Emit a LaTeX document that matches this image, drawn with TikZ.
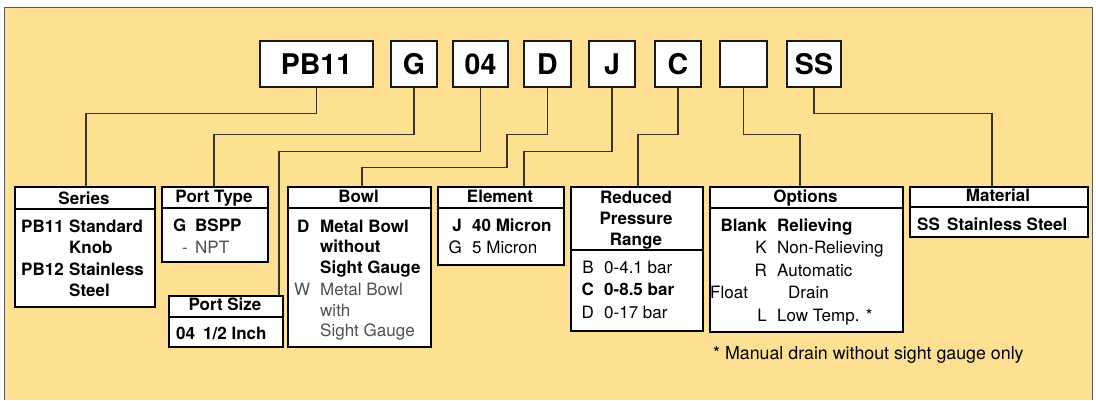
\documentclass[tikz,border=0pt]{standalone}
\usepackage{fontspec}
\setmainfont{TeX Gyre Heros}
\definecolor{panel}{RGB}{254,224,146}
\definecolor{conncol}{RGB}{58,50,34}
\definecolor{gtext}{RGB}{80,80,80}
\begin{document}
\begin{tikzpicture}[x=1pt,y=-1pt,
  topbox/.style={draw=black!90, line width=1.6pt, fill=white, inner sep=0pt, minimum height=46pt, text height=20.5pt, text depth=0pt, font=\fontsize{28.5}{30}\selectfont\bfseries},
  bbox/.style={draw=black, line width=2pt, fill=white, inner sep=0pt, anchor=north west},
  hdr/.style={line width=2pt, black},
  conn/.style={draw=conncol, line width=1.2pt},
  txt/.style={inner sep=0pt, font=\fontsize{17}{20}\selectfont},
  bt/.style={inner sep=0pt, font=\fontsize{17}{20}\selectfont\bfseries},
  gt/.style={txt, text=gtext},
  ft/.style={inner sep=0pt, font=\fontsize{17.8}{20}\selectfont},
]
\useasboundingbox (0,0) rectangle (1096,400);
% panel
\fill[panel] (4,7) rectangle (1092,400);
\draw[gray!70!black, line width=0.8pt] (4,400) -- (4,7) -- (1092,7) -- (1092,400);

% top code boxes
\node[topbox, minimum width=113pt] (pb) at (316.5,64) {PB11};
\node[topbox, minimum width=46pt] (g) at (414,64) {G};
\node[topbox, minimum width=55pt] (ps) at (480.5,64) {04};
\node[topbox, minimum width=47pt] (d) at (547.5,64) {D};
\node[topbox, minimum width=46pt] (j) at (612,64) {J};
\node[topbox, minimum width=46pt] (c) at (678,64) {C};
\node[topbox, minimum width=47pt] (bl) at (743.5,64) {};
\node[topbox, minimum width=54pt] (ss) at (814,64) {SS};

% bottom boxes
\node[bbox, minimum width=140pt, minimum height=120pt] (series) at (14,186) {};
\node[bbox, minimum width=106pt, minimum height=75pt] (pt) at (161,186) {};
\node[bbox, minimum width=114pt, minimum height=51pt] (psize) at (168,295) {};
\node[bbox, minimum width=143pt, minimum height=160pt] (bowl) at (287,186) {};
\node[bbox, minimum width=126pt, minimum height=78pt] (element) at (437,186) {};
\node[bbox, minimum width=132pt, minimum height=144pt] (rpr) at (570,186) {};
\node[bbox, minimum width=193pt, minimum height=145pt] (opt) at (709,186) {};
\node[bbox, minimum width=178pt, minimum height=50pt] (mat) at (909,186) {};

% header rules
\draw[hdr] ([yshift=-23pt]series.north west) -- ([yshift=-23pt]series.north east);
\draw[hdr] ([yshift=-22pt]pt.north west) -- ([yshift=-22pt]pt.north east);
\draw[hdr] ([yshift=-22pt]psize.north west) -- ([yshift=-22pt]psize.north east);
\draw[hdr] ([yshift=-22pt]bowl.north west) -- ([yshift=-22pt]bowl.north east);
\draw[hdr] ([yshift=-22pt]element.north west) -- ([yshift=-22pt]element.north east);
\draw[hdr] ([yshift=-64pt]rpr.north west) -- ([yshift=-64pt]rpr.north east);
\draw[hdr] ([yshift=-22pt]opt.north west) -- ([yshift=-22pt]opt.north east);
\draw[hdr] ([yshift=-21pt]mat.north west) -- ([yshift=-21pt]mat.north east);

% connectors
\draw[conn] (pb.south) -- ++(0,26) -| ([xshift=1pt]series.north);
\draw[conn] (g.south) -- ++(0,47) -| ([xshift=-1pt]pt.north);
\draw[conn] (ps.south) -- ++(0,64) -| ([xshift=53pt]psize.north);
\draw[conn] (d.south) -- ++(0,47) -| ++(-40.5,33) -| ([xshift=2.5pt]bowl.north);
\draw[conn] (j.south) -- ++(0,64) -| ([xshift=23pt]element.north);
\draw[conn] (c.south) -- ++(0,47) -| ([xshift=1pt]rpr.north);
\draw[conn] (bl.south) -- ++(0,47) -| ([xshift=-6.5pt]opt.north);
\draw[conn] (ss.south) -- ++(0,26) -| ([xshift=-7pt]mat.north);

% Series
\node[bt, anchor=base] (seriesH) at (84,204) {Series};
\node[bt, anchor=base west] (s1) at (21,232) {PB11};
\node[bt, anchor=base west] (s2) at (69,232) {Standard};
\node[bt, anchor=base west] (s3) at (69,253) {Knob};
\node[bt, anchor=base west] (s4) at (21,275) {PB12};
\node[bt, anchor=base west] (s5) at (69,275) {Stainless};
\node[bt, anchor=base west] (s6) at (69,296) {Steel};

% Port Type
\node[bt, anchor=base] (ptH) at (214,202) {Port Type};
\node[bt, anchor=base west] (p1) at (173,231) {G};
\node[bt, anchor=base west] (p2) at (195,231) {BSPP};
\node[gt, anchor=base west] (p3) at (182,253) {-};
\node[gt, anchor=base west] (p4) at (195,253) {NPT};

% Port Size
\node[bt, anchor=base] (psH) at (225,310) {Port Size};
\node[bt, anchor=base west] (z1) at (176,339) {04};
\node[bt, anchor=base west] (z2) at (203,339) {1/2 Inch};

% Bowl
\node[bt, anchor=base] (bowlH) at (358.5,202) {Bowl};
\node[bt, anchor=base west] (b1) at (297,232) {D};
\node[bt, anchor=base west] (b2) at (320,232) {Metal Bowl};
\node[bt, anchor=base west] (b3) at (320,252) {without};
\node[bt, anchor=base west] (b4) at (320,273) {Sight Gauge};
\node[gt, anchor=base west] (b5) at (294,295) {W};
\node[gt, anchor=base west] (b6) at (320,295) {Metal Bowl};
\node[gt, anchor=base west] (b7) at (320,316) {with};
\node[gt, anchor=base west] (b8) at (320,336) {Sight Gauge};

% Element
\node[bt, anchor=base] (elH) at (500,202) {Element};
\node[bt, anchor=base east] (e1) at (462,231) {J};
\node[bt, anchor=base west] (e2) at (472,231) {40 Micron};
\node[txt, anchor=base east] (e3) at (462,253) {G};
\node[txt, anchor=base west] (e4) at (472,253) {5 Micron};

% Reduced Pressure Range
\node[bt, anchor=base] (rH1) at (636,203) {Reduced};
\node[bt, anchor=base] (rH2) at (636,224) {Pressure};
\node[bt, anchor=base] (rH3) at (636,245) {Range};
\node[txt, anchor=base east] (r1) at (594,273) {B};
\node[txt, anchor=base west] (r2) at (604,273) {0-4.1 bar};
\node[bt, anchor=base east] (r3) at (594,295) {C};
\node[bt, anchor=base west] (r4) at (604,295) {0-8.5 bar};
\node[txt, anchor=base east] (r5) at (594,318) {D};
\node[txt, anchor=base west] (r6) at (604,318) {0-17 bar};

% Options
\node[bt, anchor=base] (oH) at (805.5,202) {Options};
\node[bt, anchor=base east] (o1) at (767,231) {Blank};
\node[bt, anchor=base west] (o2) at (777,231) {Relieving};
\node[txt, anchor=base east] (o3) at (767,253) {K};
\node[txt, anchor=base west] (o4) at (777,253) {Non-Relieving};
\node[txt, anchor=base east] (o5) at (767,276) {R};
\node[txt, anchor=base west] (o6) at (777,276) {Automatic};
\node[txt, anchor=base west] (o7) at (710,298) {Float};
\node[txt, anchor=base west] (o8) at (788,298) {Drain};
\node[txt, anchor=base east] (o9) at (767,321) {L};
\node[txt, anchor=base west] (o10) at (777,321) {Low Temp. *};

% Material
\node[bt, anchor=base] (mH) at (998,201) {Material};
\node[bt, anchor=base west] (m1) at (917,230) {SS};
\node[bt, anchor=base west] (m2) at (947,230) {Stainless Steel};

% footnote
\node[ft, anchor=base west] (fn) at (713,359) {* Manual drain without sight gauge only};
\end{tikzpicture}
\end{document}
